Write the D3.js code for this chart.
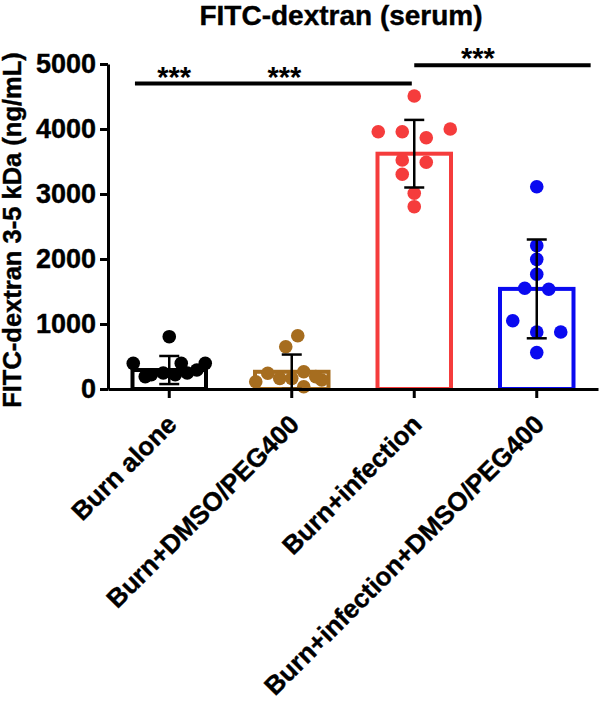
<!DOCTYPE html>
<html><head><meta charset="utf-8">
<script src="https://cdn.jsdelivr.net/npm/d3@7"></script>
<style>
body{margin:0;background:#fff;}
text{font-family:"Liberation Sans",Arial,Helvetica,sans-serif;font-weight:bold;}
</style></head>
<body><svg id="c" width="600" height="706"></svg>
<script>
// ---- data ----
const categories = ["Burn alone","Burn+DMSO/PEG400","Burn+infection","Burn+infection+DMSO/PEG400"];
const colors = ["#000000","#A66D1F","#F53C3C","#0A0AF0"];
const means = [292, 265, 3620, 1540];
const sds = [216, 265, 520, 760];
const pointsBurn = [805, 395, 395, 395, 190, 220, 246, 220, 246, 292];
const colsBurn   = [0, -3, 1, 3, -2, -1.5, -0.5, 0.5, 1.5, 2.3];
const pointsDmso = [820, 650, 242, 266, 164, 164, 112, 138, 190, 35];
const colsDmso   = [0.5, -0.5, -2, 1, -1, 0, -3, 2.5, 2, 1];
const pointsInf  = [4508, 3958, 3958, 3866, 4000, 3523, 3488, 3303, 3011, 2805];
const colsInf    = [0, -3, -1, 1, 3, -1, 1, -1, 0, 0];
const pointsInfD = [3112, 2205, 1995, 1765, 1549, 1534, 1051, 877, 877, 560];
const colsInfD   = [0, 0, 0, 0, -1, 1, -2, 0, 2, 0];
const yTicks = [0, 1000, 2000, 3000, 4000, 5000];
const sigLines = [{from:0, fromOff:-0.28, to:2, toOff:-0.02, value:4700},
                  {from:2, fromOff:0, to:3, toOff:0.44, value:4980}];
const sigStars = [{cat:0, off:0.04, value:4700, label:"***"},
                  {cat:1, off:-0.06, value:4700, label:"***"},
                  {cat:2, off:0.52, value:4980, label:"***"}];
const title = "FITC-dextran (serum)";
const yLabel = "FITC-dextran 3-5 kDa (ng/mL)";

const groups = [
  {pts: pointsBurn, cols: colsBurn},
  {pts: pointsDmso, cols: colsDmso},
  {pts: pointsInf, cols: colsInf},
  {pts: pointsInfD, cols: colsInfD}
];

// ---- chart ----
const svg = d3.select("#c");
const x = d3.scaleBand().domain(categories).range([108, 598]).padding(0);
const y = d3.scaleLinear().domain([0, 5000]).range([389, 64]);
const bw = x.bandwidth() * 0.6;
const cx = c => x(c) + x.bandwidth() / 2;
const colUnit = 12;

// title
svg.append("text").attr("x", 341).attr("y", 25).attr("text-anchor", "middle")
  .attr("font-size", 28).attr("stroke", "#000").attr("stroke-width", 0.4).text(title);

// y label
svg.append("text").attr("transform", "translate(21,230) rotate(-90)")
  .attr("text-anchor", "middle").attr("font-size", 25.5).attr("stroke", "#000").attr("stroke-width", 0.4).text(yLabel);

// bars
svg.append("g").selectAll("rect").data(categories).join("rect")
  .attr("x", c => cx(c) - bw / 2)
  .attr("y", (c, i) => y(means[i]))
  .attr("width", bw)
  .attr("height", (c, i) => y(0) - y(means[i]))
  .attr("fill", "#fff")
  .attr("stroke", (c, i) => colors[i])
  .attr("stroke-width", 4);

// points
groups.forEach((g, i) => {
  svg.append("g").selectAll("circle").data(g.pts).join("circle")
    .attr("cx", (v, j) => cx(categories[i]) + g.cols[j] * colUnit)
    .attr("cy", v => y(v))
    .attr("r", 6.8)
    .attr("fill", colors[i]);
});

// error bars
const eb = svg.append("g").attr("stroke", "#000").attr("stroke-width", 2.5);
categories.forEach((c, i) => {
  const lo = Math.max(0, means[i] - sds[i]), hi = means[i] + sds[i];
  eb.append("line").attr("x1", cx(c)).attr("x2", cx(c)).attr("y1", y(lo)).attr("y2", y(hi));
  eb.append("line").attr("x1", cx(c) - 10).attr("x2", cx(c) + 10).attr("y1", y(hi)).attr("y2", y(hi));
  eb.append("line").attr("x1", cx(c) - 10).attr("x2", cx(c) + 10).attr("y1", y(lo)).attr("y2", y(lo));
});

// axes
const yAxis = svg.append("g").attr("transform", "translate(108,0)")
  .call(d3.axisLeft(y).tickValues(yTicks).tickFormat(d3.format("d")).tickSize(8).tickSizeOuter(0).tickPadding(4));
yAxis.selectAll("path,line").attr("stroke", "#000").attr("stroke-width", 3);
yAxis.selectAll("text").attr("font-size", 27).attr("fill", "#000").attr("stroke", "#000").attr("stroke-width", 0.4)
  .style("font-family", '"Liberation Sans",Arial,sans-serif').style("font-weight", "bold");

const xAxis = svg.append("g").attr("transform", "translate(0,389)")
  .call(d3.axisBottom(x).tickSize(9).tickSizeOuter(0).tickFormat(""));
xAxis.selectAll("path,line").attr("stroke", "#000").attr("stroke-width", 3);

// x labels
svg.append("g").selectAll("text").data(categories).join("text")
  .attr("transform", c => `translate(${cx(c) + 9},426) rotate(-45)`)
  .attr("text-anchor", "end").attr("font-size", 26).attr("stroke", "#000").attr("stroke-width", 0.4).text(c => c);

// significance
svg.append("g").selectAll("line").data(sigLines).join("line")
  .attr("x1", d => cx(categories[d.from]) + d.fromOff * x.bandwidth())
  .attr("x2", d => cx(categories[d.to]) + d.toOff * x.bandwidth())
  .attr("y1", d => y(d.value)).attr("y2", d => y(d.value))
  .attr("stroke", "#000").attr("stroke-width", 4);
svg.append("g").selectAll("text").data(sigStars).join("text")
  .attr("x", d => cx(categories[d.cat]) + d.off * x.bandwidth())
  .attr("y", d => y(d.value) + 3)
  .attr("text-anchor", "middle").attr("font-size", 29).text(d => d.label);
</script></body></html>
